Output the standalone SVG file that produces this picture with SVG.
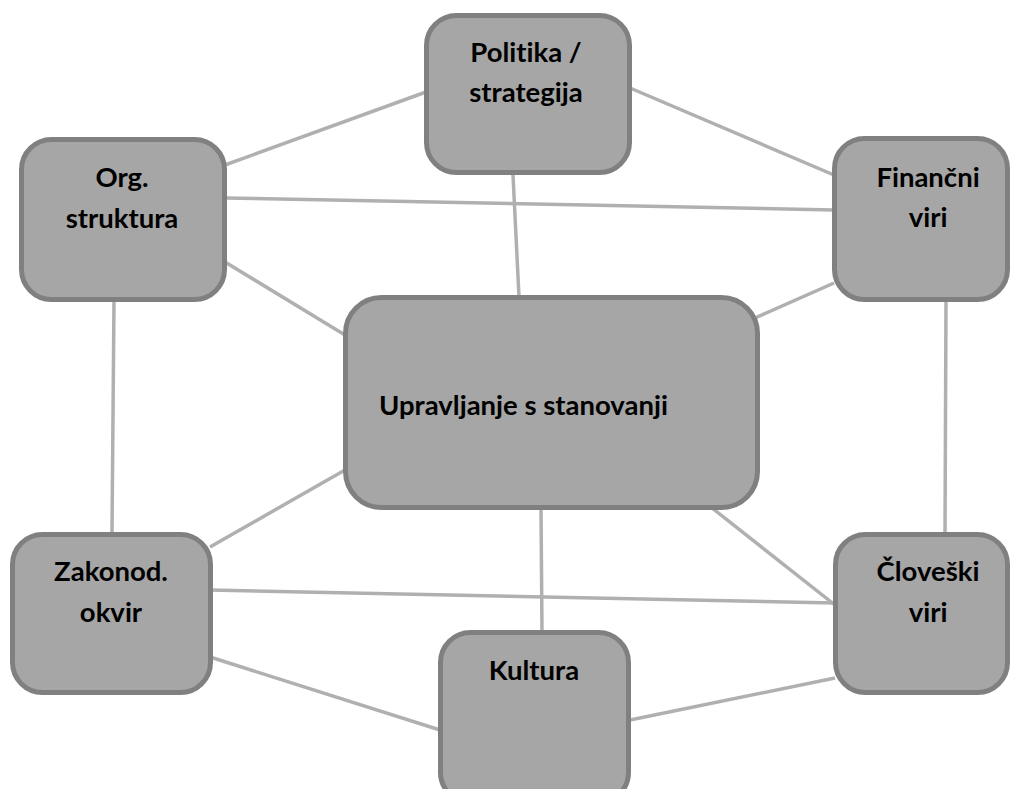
<svg xmlns="http://www.w3.org/2000/svg" width="1012" height="789" viewBox="0 0 1012 789">
<style>
.box{fill:#a6a6a6;stroke:#808080;stroke-width:5}
.lbl{font-family:Lato,"Open Sans","Liberation Sans",sans-serif;font-weight:bold;font-size:27.5px;fill:#000;text-anchor:middle;font-variant-ligatures:none}
.con line{stroke:#b0b0b0;stroke-width:3.5}
</style>
<rect width="1012" height="789" fill="#fff"/>
<g class="con">
<line x1="426" y1="92" x2="225" y2="165"/>
<line x1="630" y1="88" x2="834" y2="175"/>
<line x1="225" y1="198" x2="834" y2="210"/>
<line x1="513" y1="175" x2="519" y2="297"/>
<line x1="225" y1="262" x2="345" y2="335"/>
<line x1="834" y1="283" x2="755" y2="318"/>
<line x1="114" y1="300" x2="112" y2="533"/>
<line x1="946" y1="300" x2="945" y2="533"/>
<line x1="345" y1="470" x2="210" y2="547"/>
<line x1="541" y1="508" x2="542" y2="632"/>
<line x1="712" y1="508" x2="835" y2="605"/>
<line x1="210" y1="590" x2="835" y2="603"/>
<line x1="210" y1="657" x2="440" y2="730"/>
<line x1="630" y1="720" x2="835" y2="678"/>
</g>
<g id="politika">
<rect class="box" x="426.5" y="15.5" width="203" height="157" rx="30"/>
<text class="lbl" x="526" y="62">Politika /</text>
<text class="lbl" x="526" y="102">strategija</text>
</g>
<g id="org">
<rect class="box" x="21.5" y="139.5" width="203" height="160" rx="30"/>
<text class="lbl" x="122" y="187">Org.</text>
<text class="lbl" x="122" y="228">struktura</text>
</g>
<g id="financni">
<rect class="box" x="834.5" y="138.5" width="173" height="161" rx="30"/>
<text class="lbl" x="928" y="187">Finančni</text>
<text class="lbl" x="928" y="227">viri</text>
</g>
<g id="center">
<rect class="box" x="345.5" y="297.5" width="412" height="210" rx="36"/>
<text class="lbl" x="379" y="415" style="text-anchor:start">Upravljanje s stanovanji</text>
</g>
<g id="zakonod">
<rect class="box" x="12.5" y="534.5" width="198" height="158" rx="30"/>
<text class="lbl" x="111" y="581">Zakonod.</text>
<text class="lbl" x="111" y="622">okvir</text>
</g>
<g id="kultura">
<rect class="box" x="440.5" y="632.5" width="188" height="170" rx="30"/>
<text class="lbl" x="534" y="680">Kultura</text>
</g>
<g id="cloveski">
<rect class="box" x="835.5" y="534.5" width="172" height="158" rx="30"/>
<text class="lbl" x="928" y="581">Človeški</text>
<text class="lbl" x="928" y="622">viri</text>
</g>
</svg>
